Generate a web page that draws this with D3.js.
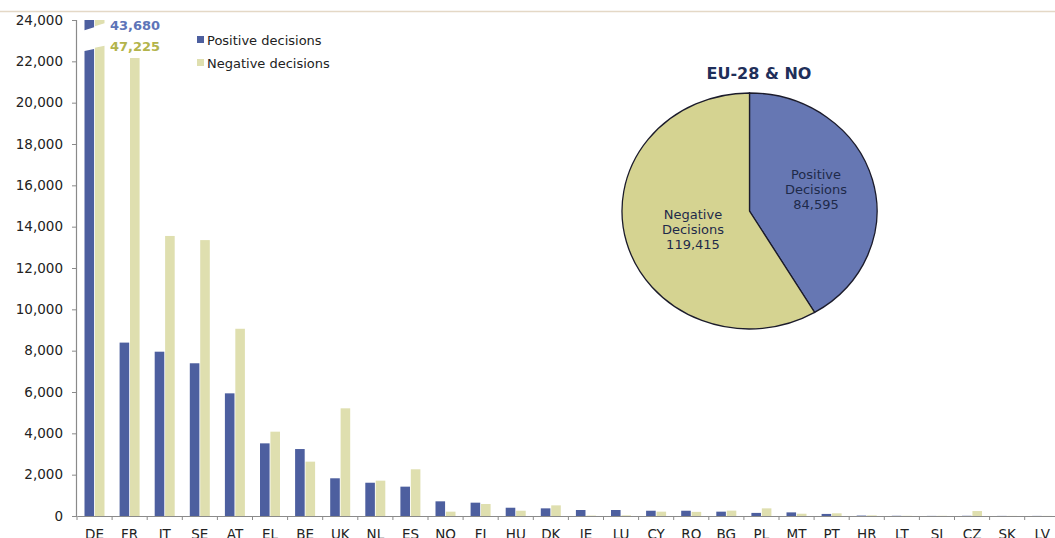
<!DOCTYPE html>
<html>
<head>
<meta charset="utf-8">
<script src="https://cdn.jsdelivr.net/npm/d3@7"></script>
<style>
  body { margin: 0; background: #fff; }
  svg { display: block; font-family: "DejaVu Sans", Verdana, sans-serif; }
</style>
</head>
<body>
<div id="chart"></div>
<script>
// data
var countries = ["DE","FR","IT","SE","AT","EL","BE","UK","NL","ES","NO","FI","HU","DK",
                 "IE","LU","CY","RO","BG","PL","MT","PT","HR","LT","SI","CZ","SK","LV"];
var positive = [43680, 8390, 7950, 7390, 5935, 3515, 3240, 1825, 1610, 1420, 710, 645, 400, 370,
                290, 290, 255, 255, 210, 150, 175, 100, 20, 10, 5, 10, 5, 5];
var negative = [47225, 22160, 13550, 13350, 9060, 4080, 2630, 5210, 1710, 2260, 210, 580, 255, 515,
                20, 30, 210, 200, 260, 370, 110, 130, 30, 10, 10, 240, 5, 5];
var seriesNames = ["Positive decisions", "Negative decisions"];
var yTicks = [0, 2000, 4000, 6000, 8000, 10000, 12000, 14000, 16000, 18000, 20000, 22000, 24000];
var pieLabels = ["Positive", "Negative"];
var pieValues = [84595, 119415];
var pieTitle = "EU-28 & NO";

var W = 1055, H = 538;
var barColors = ["#4d5f9f", "#dfdfaf"];
var pieColors = ["#6677b3", "#d5d391"];
var textDark = "#222";

var svg = d3.select("#chart").append("svg").attr("width", W).attr("height", H);

// top border line
svg.append("line").attr("x1", 0).attr("x2", W).attr("y1", 11.5).attr("y2", 11.5)
    .attr("stroke", "#e4d8c6").attr("stroke-width", 1.5);

var x = d3.scaleBand().domain(countries).range([77, 77 + 35.1 * countries.length]);
var xs = d3.scaleBand().domain([0, 1]).range([7.5, 27.5]).paddingInner(0.08);
var y = d3.scaleLinear().domain([0, 24000]).range([516, 20]);

// axes
var yAxis = svg.append("g").attr("transform", "translate(76,0)")
    .call(d3.axisLeft(y).tickValues(yTicks).tickSize(4).tickPadding(9)
        .tickFormat(d3.format(",")));
var xAxis = svg.append("g").attr("transform", "translate(0,516)")
    .call(d3.axisBottom(x).tickSize(0).tickPadding(13));
[yAxis, xAxis].forEach(function(g) {
    g.select(".domain").attr("stroke", "#8a8a8a").attr("stroke-width", 1.2);
    g.selectAll("text").attr("font-size", 13.5).attr("fill", textDark)
        .attr("font-family", "DejaVu Sans, sans-serif");
});
yAxis.selectAll(".tick line").attr("stroke", "#8a8a8a");
// tick marks between categories
xAxis.selectAll(".sep").data(countries).enter().append("line")
    .attr("x1", function(d) { return x(d); }).attr("x2", function(d) { return x(d); })
    .attr("y1", 0).attr("y2", 4).attr("stroke", "#8a8a8a");

// bars
var breakLow = [22550, 22700], breakHigh = [23550, 23750], maxY = 24000;
var rows = countries.map(function(c, i) { return {c: c, v: [positive[i], negative[i]]}; });
var groups = svg.append("g").selectAll("g").data(rows).enter().append("g")
    .attr("transform", function(d) { return "translate(" + x(d.c) + ",0)"; });

groups.each(function(d) {
    var g = d3.select(this);
    d.v.forEach(function(v, s) {
        var x0 = xs(s), bw = xs.bandwidth();
        if (v <= maxY) {
            g.append("rect").attr("x", x0).attr("width", bw)
                .attr("y", y(v)).attr("height", y(0) - y(v))
                .attr("fill", barColors[s]);
        } else {
            // broken bar: lower part and a short stub at the top
            var yl = y(breakLow[s]);
            g.append("path").attr("fill", barColors[s])
                .attr("d", "M" + x0 + "," + y(0) + "L" + x0 + "," + (yl + 1) +
                    "L" + (x0 + bw) + "," + (yl - 1) + "L" + (x0 + bw) + "," + y(0) + "Z");
            var yh = y(breakHigh[s]);
            g.append("path").attr("fill", barColors[s])
                .attr("d", "M" + x0 + "," + y(maxY) + "L" + (x0 + bw) + "," + y(maxY) +
                    "L" + (x0 + bw) + "," + (yh - 2) + "L" + x0 + "," + (yh + 1) + "Z");
        }
    });
});

// value labels for broken bars
var valueColors = ["#5d74b8", "#b3b44c"];
rows.forEach(function(d) {
    d.v.forEach(function(v, s) {
        if (v > maxY) {
            svg.append("text").attr("x", x(d.c) + 33).attr("y", 30 + s * 20.5)
                .attr("font-size", 13).attr("font-weight", "bold")
                .attr("fill", valueColors[s]).text(d3.format(",")(v));
        }
    });
});

// legend
var legend = svg.append("g").attr("transform", "translate(197,40)");
seriesNames.forEach(function(n, i) {
    legend.append("rect").attr("x", 0).attr("y", i * 23 - 4).attr("width", 7).attr("height", 7)
        .attr("fill", barColors[i]);
    legend.append("text").attr("x", 10).attr("y", i * 23 + 4.5)
        .attr("font-size", 13).attr("fill", textDark).text(n);
});

// pie
var cx = 749.5, cy = 211, rx = 127.5, ry = 118;
var pieG = svg.append("g").attr("transform", "translate(" + cx + "," + cy + ") scale(" + (rx / ry) + ",1)");
var arcs = d3.pie().sort(null)(pieValues);
var arc = d3.arc().innerRadius(0).outerRadius(ry);
pieG.selectAll("path").data(arcs).enter().append("path")
    .attr("d", arc).attr("fill", function(d, i) { return pieColors[i]; })
    .attr("stroke", "#1b1b2b").attr("stroke-width", 1.3)
    .attr("vector-effect", "non-scaling-stroke");

svg.append("text").attr("x", 759).attr("y", 79).attr("text-anchor", "middle")
    .attr("font-size", 16).attr("font-weight", "bold").attr("fill", "#1f2f5a").text(pieTitle);

var labelPos = [[816, 179], [693, 219]];
arcs.forEach(function(a, i) {
    var t = svg.append("text").attr("text-anchor", "middle").attr("font-size", 13)
        .attr("fill", "#1e2a4a");
    [pieLabels[i], "Decisions", d3.format(",")(pieValues[i])].forEach(function(line, k) {
        t.append("tspan").attr("x", labelPos[i][0]).attr("y", labelPos[i][1] + k * 15).text(line);
    });
});
</script>
</body>
</html>
